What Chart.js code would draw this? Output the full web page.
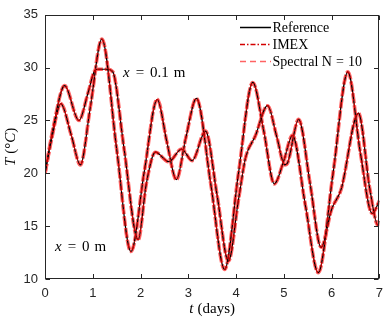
<!DOCTYPE html>
<html><head><meta charset="utf-8">
<script src="https://cdn.jsdelivr.net/npm/chart.js@4/dist/chart.umd.min.js"></script>
<style>html,body{margin:0;padding:0;background:#fff}#wrap{width:390px;height:322px}</style>
</head><body><div id="wrap"><canvas id="c" width="390" height="322"></canvas></div>
<script>
// Surface curve (x = 0 m): times (days) and temperatures (°C)
const tSurface = [0, 0.15, 0.33, 0.55, 0.74, 0.95, 1.19, 1.5, 1.80, 2.08, 2.35, 2.55, 2.75, 2.95, 3.17, 3.47, 3.76, 4.05, 4.35, 4.58, 4.80, 5.0, 5.18, 5.45, 5.72, 6.03, 6.34, 6.6, 6.85, 7.0];
const TSurface = [20.0, 23.5, 26.6, 23.6, 20.8, 26.3, 32.7, 22.3, 12.6, 20.2, 27.0, 23.0, 19.4, 23.4, 27.1, 19.0, 10.9, 20.0, 28.6, 24.0, 19.0, 21.2, 23.6, 17.0, 10.6, 20.0, 29.6, 22.0, 16.2, 17.4];
// Depth curve (x = 0.1 m)
const tDepth = [0, 0.18, 0.41, 0.71, 0.9, 1.04, 1.12, 1.3, 1.42, 1.65, 1.95, 2.12, 2.31, 2.59, 2.86, 3.08, 3.36, 3.6, 3.84, 4.05, 4.2, 4.4, 4.66, 4.85, 5.02, 5.08, 5.31, 5.55, 5.78, 6.0, 6.2, 6.56, 6.8, 6.97, 7.0];
const TDepth = [20.0, 24.5, 28.3, 25.0, 27.6, 29.7, 29.85, 29.85, 29.6, 22.5, 13.7, 19.0, 22.0, 21.1, 22.3, 21.2, 24.0, 18.0, 11.7, 17.5, 21.5, 23.5, 26.4, 23.5, 20.8, 21.0, 25.1, 19.0, 13.0, 16.6, 18.5, 25.7, 18.5, 15.1, 15.5];

const xTicks = [0, 1, 2, 3, 4, 5, 6, 7];
const yTicks = [10, 15, 20, 25, 30, 35];
const seriesNames = ['Reference', 'IMEX', 'Spectral N = 10'];

const pts = (ts, vs) => ts.map((t, i) => ({x: t, y: vs[i]}));
const styles = {
  'Reference': {borderColor: '#000000', borderWidth: 1.2, borderDash: [], order: 2},
  'IMEX': {borderColor: '#d40000', borderWidth: 1.2, borderDash: [5, 2.5, 1.5, 2.5], order: 1},
  'Spectral N = 10': {borderColor: '#ff6363', borderWidth: 3.6, borderDash: [10, 2], order: 3}
};
const datasets = [];
[[tSurface, TSurface], [tDepth, TDepth]].forEach(([ts, vs]) => {
  seriesNames.forEach(n => {
    datasets.push(Object.assign({label: n, data: pts(ts, vs), pointRadius: 0, fill: false,
      cubicInterpolationMode: 'monotone'}, styles[n]));
  });
});

const SERIF = '"Liberation Serif", "DejaVu Serif", serif';
const SANS = '"Liberation Sans", Arial, sans-serif';
function drawParts(ctx, parts, x, y, size) {
  let cx = x;
  parts.forEach(p => {
    if (p.gap) { cx += p.gap; return; }
    ctx.font = (p.it ? 'italic ' : '') + size + 'px ' + SERIF;
    ctx.fillText(p.t, cx, y);
    cx += ctx.measureText(p.t).width;
  });
  return cx - x;
}
function partsWidth(ctx, parts, size) {
  let w = 0;
  parts.forEach(p => {
    if (p.gap) { w += p.gap; return; }
    ctx.font = (p.it ? 'italic ' : '') + size + 'px ' + SERIF;
    w += ctx.measureText(p.t).width;
  });
  return w;
}

const deco = {
  id: 'deco',
  afterDraw(chart) {
    const ctx = chart.ctx, a = chart.chartArea;
    const xs = chart.scales.x, ys = chart.scales.y;
    ctx.save();
    const L = Math.round(a.left) + 0.5, R = Math.round(a.right) - 0.5;
    const T = Math.round(a.top) + 0.5, B = Math.round(a.bottom) - 0.5;
    ctx.strokeStyle = '#262626'; ctx.lineWidth = 1; ctx.setLineDash([]);
    ctx.strokeRect(L, T, R - L, B - T);
    const tl = 4.5;
    ctx.beginPath();
    xTicks.forEach(v => {
      const px = Math.round(xs.getPixelForValue(v)) + 0.5;
      ctx.moveTo(px, B); ctx.lineTo(px, B - tl);
      ctx.moveTo(px, T); ctx.lineTo(px, T + tl);
    });
    yTicks.forEach(v => {
      const py = Math.round(ys.getPixelForValue(v)) + 0.5;
      ctx.moveTo(L, py); ctx.lineTo(L + tl, py);
      ctx.moveTo(R, py); ctx.lineTo(R - tl, py);
    });
    ctx.stroke();

    // legend
    ctx.fillStyle = '#000';
    ctx.textBaseline = 'middle';
    const legY = [27, 44, 61];
    seriesNames.forEach((n, i) => {
      const s = styles[n];
      ctx.beginPath();
      ctx.strokeStyle = s.borderColor;
      ctx.lineWidth = 1.5;
      ctx.setLineDash(n === 'Spectral N = 10' ? [6, 4] : n === 'IMEX' ? [5, 2, 1.5, 2] : []);
      ctx.moveTo(240, legY[i] + 0.5); ctx.lineTo(271, legY[i] + 0.5);
      ctx.stroke();
      ctx.setLineDash([]);
      const parts = n === 'Spectral N = 10'
        ? [{t: 'Spectral N'}, {gap: 4}, {t: '='}, {gap: 4}, {t: '10'}]
        : [{t: n}];
      drawParts(ctx, parts, 272.5, legY[i] + 1, 14);
    });

    // curve annotations
    ctx.textBaseline = 'alphabetic';
    drawParts(ctx, [{t: 'x', it: true}, {gap: 6}, {t: '='}, {gap: 6}, {t: '0.1'}, {gap: 5}, {t: 'm'}], 123, 77, 15);
    drawParts(ctx, [{t: 'x', it: true}, {gap: 6}, {t: '='}, {gap: 6}, {t: '0'}, {gap: 5}, {t: 'm'}], 55, 251, 15);

    // axis titles
    const xt = [{t: 't', it: true}, {gap: 4}, {t: '(days)'}];
    const wx = partsWidth(ctx, xt, 15);
    drawParts(ctx, xt, (a.left + a.right) / 2 - wx / 2, 313, 15);
    const yt = [{t: 'T', it: true}, {gap: 4}, {t: '(°'}, {t: 'C', it: true}, {t: ')'}];
    const wy = partsWidth(ctx, yt, 15);
    ctx.translate(15, (a.top + a.bottom) / 2);
    ctx.rotate(-Math.PI / 2);
    drawParts(ctx, yt, -wy / 2, 0, 15);
    ctx.restore();
  }
};

new Chart(document.getElementById('c'), {
  type: 'line',
  data: {datasets},
  options: {
    responsive: false, animation: false, devicePixelRatio: 1,
    layout: {padding: {top: 8, right: 7, left: 0, bottom: 0}},
    plugins: {legend: {display: false}, tooltip: {enabled: false}},
    scales: {
      x: {type: 'linear', min: 0, max: 7,
        afterFit: s => { s.height = 43; },
        afterBuildTicks: s => { s.ticks = xTicks.map(v => ({value: v})); },
        ticks: {font: {family: SANS, size: 13}, color: '#262626', padding: 7, maxRotation: 0},
        grid: {display: false, drawTicks: false}, border: {display: false}},
      y: {type: 'linear', min: 10, max: 35,
        afterFit: s => { s.width = 45; },
        afterBuildTicks: s => { s.ticks = yTicks.map(v => ({value: v})); },
        ticks: {font: {family: SANS, size: 13}, color: '#262626', padding: 7},
        grid: {display: false, drawTicks: false}, border: {display: false}}
    }
  },
  plugins: [deco]
});
</script></body></html>
